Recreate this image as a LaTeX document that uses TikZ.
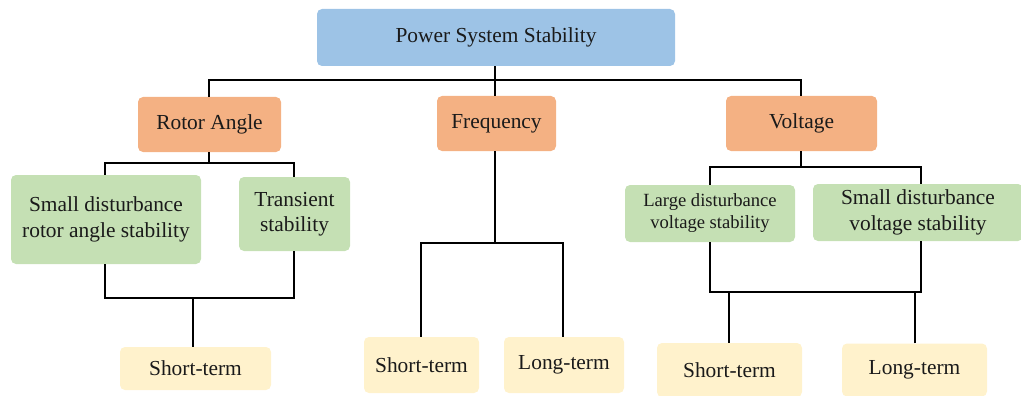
\documentclass[tikz,border=0pt]{standalone}
\usepackage{fontspec}
\setmainfont{Liberation Serif}
\definecolor{cblue}{HTML}{9DC3E6}
\definecolor{corange}{HTML}{F4B183}
\definecolor{cgreen}{HTML}{C5E0B4}
\definecolor{cyellow}{HTML}{FFF2CC}
\definecolor{ctext}{HTML}{1A1A1A}
\begin{document}
\begin{tikzpicture}[x=1pt,y=-1pt,
  box/.style={rectangle,rounded corners=5pt,inner sep=0pt,align=center,text=ctext,
    font=\fontsize{21.4}{25.5}\selectfont},
  rootbox/.style={box,fill=cblue},
  catbox/.style={box,fill=corange},
  subbox/.style={box,fill=cgreen},
  termbox/.style={box,fill=cyellow},
  link/.style={draw=black,line width=1.8pt}]
\useasboundingbox (0,0) rectangle (1021,396);
% nodes
\node[rootbox,minimum width=358pt,minimum height=57pt] (root) at (496,37.5) {Power System Stability};
\node[catbox,minimum width=143pt,minimum height=55pt] (ra) at (209.5,124.5) {Rotor Angle};
\node[catbox,minimum width=119pt,minimum height=55pt] (fr) at (496.5,123.5) {Frequency};
\node[catbox,minimum width=151pt,minimum height=55pt] (vo) at (801.5,123.5) {Voltage};
\node[subbox,minimum width=190pt,minimum height=89pt] (sd) at (106,219.5) {Small disturbance\\rotor angle stability};
\node[subbox,minimum width=111pt,minimum height=74pt] (tr) at (294.5,214) {Transient\\stability};
\node[subbox,minimum width=170pt,minimum height=57pt,font=\fontsize{18.6}{22}\selectfont] (lv) at (710,213.5) {Large disturbance\\voltage stability};
\node[subbox,minimum width=210pt,minimum height=57pt] (sv) at (918,212.5) {Small disturbance\\voltage stability};
\node[termbox,minimum width=151pt,minimum height=43pt] (st1) at (195.5,368.5) {Short-term};
\node[termbox,minimum width=115pt,minimum height=56pt] (st2) at (421.5,365) {Short-term};
\node[termbox,minimum width=120pt,minimum height=56pt] (lt2) at (564,365) {Long-term};
\node[termbox,minimum width=145pt,minimum height=54pt] (st3) at (729.5,370) {Short-term};
\node[termbox,minimum width=145pt,minimum height=53pt] (lt3) at (914.5,370) {Long-term};
% junctions
\coordinate (j0) at (495,80);
\coordinate (j1) at (209,163);
\coordinate (j1l) at (105,163);
\coordinate (j1r) at (294,163);
\coordinate (j2) at (193,298);
\coordinate (j2l) at (105,298);
\coordinate (j2r) at (294,298);
\coordinate (j3) at (495,243);
\coordinate (j3l) at (421,243);
\coordinate (j3r) at (563,243);
\coordinate (j4) at (801,167);
\coordinate (j4l) at (710,167);
\coordinate (j4r) at (921,167);
\coordinate (j5) at (710,292);
\coordinate (j5r) at (921,292);
\coordinate (j5a) at (729,292);
\coordinate (j5b) at (915,292);
% connectors
\draw[link] (root.south -| j0) -- (j0);
\draw[link] (ra.north -| j1) |- (j0) -| (vo.north -| j4);
\draw[link] (j0) -- (fr.north -| j0);
\draw[link] (ra.south -| j1) -- (j1);
\draw[link] (sd.north -| j1l) -- (j1l) -- (j1r) -- (tr.north -| j1r);
\draw[link] (sd.south -| j2l) -- (j2l) -- (j2r) -- (tr.south -| j2r);
\draw[link] (j2) -- (j2 |- st1.north);
\draw[link] (fr.south -| j3) -- (j3);
\draw[link] (st2.north -| j3l) -- (j3l) -- (j3r) -- (lt2.north -| j3r);
\draw[link] (vo.south -| j4) -- (j4);
\draw[link] (lv.north -| j4l) -- (j4l) -- (j4r) -- (sv.north -| j4r);
\draw[link] (lv.south -| j5) -- (j5) -- (j5r) -- (sv.south -| j5r);
\draw[link] (st3.north -| j5a) -- (j5a);
\draw[link] (lt3.north -| j5b) -- (j5b);
\end{tikzpicture}
\end{document}
